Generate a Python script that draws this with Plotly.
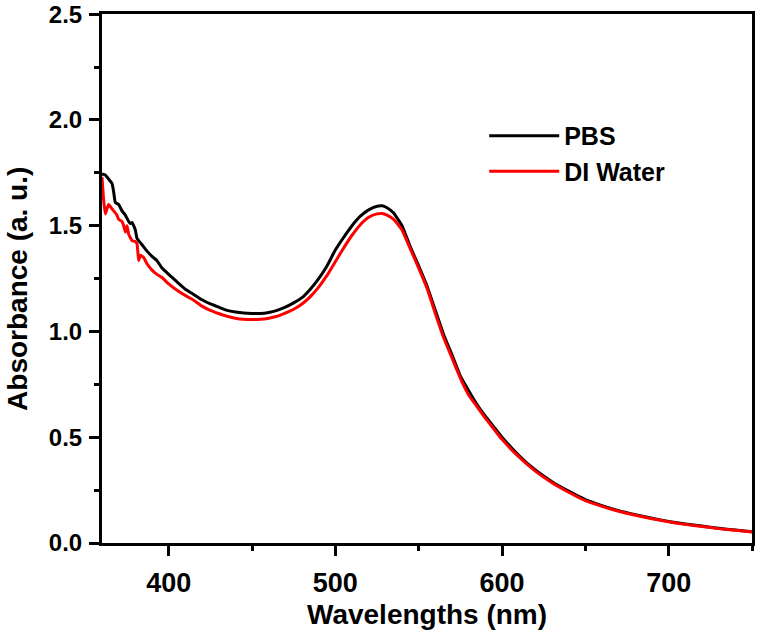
import plotly.graph_objects as go

# UV-vis absorbance, values
wl_pbs = [360, 362, 364, 366, 367, 368, 370, 372, 374, 376, 377, 378, 379, 380, 381, 383, 385, 387,
          390, 393, 396, 400, 405, 410, 415, 420, 425, 430, 435, 440, 445, 450, 455, 460, 465, 470,
          475, 480, 485, 490, 495, 500, 505, 510, 515, 520, 525, 528, 531, 535, 540, 545, 550, 555,
          560, 565, 570, 575, 580, 585, 590, 595, 600, 610, 620, 630, 640, 650, 660, 670, 680, 690,
          700, 710, 720, 730, 740, 750]
abs_pbs = [1.745, 1.74, 1.72, 1.70, 1.66, 1.61, 1.60, 1.57, 1.55, 1.52, 1.51, 1.515, 1.50, 1.48, 1.44,
           1.42, 1.40, 1.38, 1.355, 1.335, 1.30, 1.27, 1.235, 1.20, 1.175, 1.15, 1.13, 1.115, 1.10,
           1.092, 1.087, 1.085, 1.085, 1.09, 1.10, 1.115, 1.135, 1.16, 1.20, 1.25, 1.31, 1.385, 1.445,
           1.50, 1.545, 1.575, 1.592, 1.594, 1.585, 1.56, 1.50, 1.40, 1.31, 1.215, 1.10, 0.985, 0.89,
           0.79, 0.72, 0.655, 0.60, 0.55, 0.50, 0.415, 0.345, 0.29, 0.245, 0.205, 0.177, 0.153,
           0.134, 0.117, 0.102, 0.09, 0.08, 0.07, 0.061, 0.053]

wl_di = [360, 361, 362, 363, 364, 366, 367, 369, 370, 372, 373, 374, 375, 376, 378, 380, 381, 382,
         383, 385, 387, 390, 393, 396, 400, 405, 410, 415, 420, 425, 430, 435, 440, 445, 450, 455,
         460, 465, 470, 475, 480, 485, 490, 495, 500, 505, 510, 515, 520, 525, 528, 531, 535, 540,
         545, 550, 555, 560, 565, 570, 575, 580, 585, 590, 595, 600, 610, 620, 630, 640, 650, 660,
         670, 680, 690, 700, 710, 720, 730, 740, 750]
abs_di = [1.73, 1.62, 1.556, 1.58, 1.60, 1.58, 1.57, 1.55, 1.53, 1.52, 1.50, 1.47, 1.50, 1.46, 1.43,
          1.425, 1.415, 1.335, 1.36, 1.35, 1.32, 1.29, 1.27, 1.255, 1.225, 1.195, 1.17, 1.148, 1.12,
          1.10, 1.085, 1.072, 1.063, 1.058, 1.057, 1.058, 1.063, 1.072, 1.087, 1.105, 1.13, 1.165,
          1.21, 1.265, 1.33, 1.395, 1.455, 1.505, 1.54, 1.556, 1.558, 1.55, 1.53, 1.48, 1.39, 1.30,
          1.205, 1.085, 0.97, 0.875, 0.78, 0.70, 0.645, 0.59, 0.54, 0.49, 0.408, 0.34, 0.285, 0.24,
          0.20, 0.173, 0.15, 0.131, 0.115, 0.10, 0.088, 0.078, 0.068, 0.06, 0.052]

FONT = "Liberation Sans, Arial, sans-serif"

fig = go.Figure()
fig.add_trace(go.Scatter(x=wl_pbs, y=abs_pbs, mode='lines', name='<b>PBS</b>',
                         line=dict(color='black', width=3, shape='spline', smoothing=0.4)))
fig.add_trace(go.Scatter(x=wl_di, y=abs_di, mode='lines', name='<b>DI Water</b>',
                         line=dict(color='#ff0000', width=3, shape='spline', smoothing=0.4)))

axis_common = dict(showline=True, linecolor='black', linewidth=3, mirror=True,
                   ticks='outside', ticklen=10, tickwidth=3, tickcolor='black',
                   showgrid=False, zeroline=False, automargin=False, ticklabeloverflow='allow')

fig.update_xaxes(range=[360, 750], tickvals=[400, 500, 600, 700], ticklabelstandoff=4,
                 tickfont=dict(family=FONT, size=27, color='black', weight='bold'),
                 minor=dict(ticks='outside', ticklen=5, tickwidth=3, tickcolor='black', dtick=50, tick0=350),
                 **axis_common)
fig.update_yaxes(range=[0, 2.501], tickvals=[0, 0.5, 1.0, 1.5, 2.0, 2.5], tickformat='.1f',
                 ticklabelstandoff=2,
                 tickfont=dict(family=FONT, size=24, color='black', weight='bold'),
                 minor=dict(ticks='outside', ticklen=5, tickwidth=3, tickcolor='black', dtick=0.25, tick0=0),
                 **axis_common)

# axis titles placed as annotations so they sit where the original has them
fig.add_annotation(text='<b>Wavelengths (nm)</b>', xref='paper', yref='paper', x=0.5, y=-0.135,
                   xanchor='center', yanchor='middle', showarrow=False,
                   font=dict(family=FONT, size=28, color='black'))
fig.add_annotation(text='<b>Absorbance (a. u.)</b>', xref='paper', yref='paper', x=-0.131, y=0.48,
                   xanchor='center', yanchor='middle', textangle=-90, showarrow=False,
                   font=dict(family=FONT, size=28, color='black'))

fig.update_layout(
    width=757, height=641,
    margin=dict(l=102, r=5, t=14, b=98),
    plot_bgcolor='white', paper_bgcolor='white',
    showlegend=True,
    legend=dict(x=0.588, y=0.813, xanchor='left', yanchor='top', bgcolor='rgba(0,0,0,0)',
                font=dict(family=FONT, size=25, color='black'), tracegroupgap=0, itemwidth=70),
)

# drop the default 8px body margin so the figure fills the window
fig.write_html("out.html", config={'displayModeBar': False},
               post_script="document.body.style.margin='0px';")
